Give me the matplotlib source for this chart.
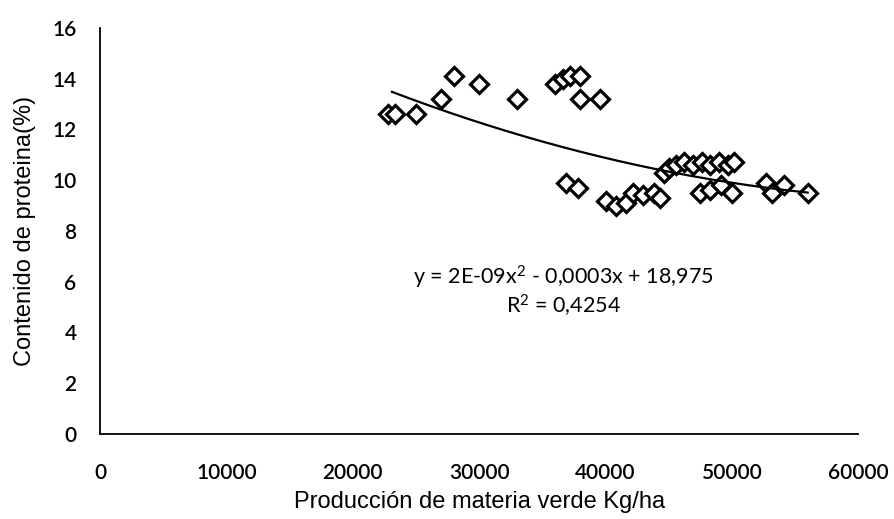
import numpy as np
import matplotlib
matplotlib.use("Agg")
import matplotlib.pyplot as plt

plt.rcParams["mathtext.fontset"] = "custom"
plt.rcParams["mathtext.rm"] = "Lato"
plt.rcParams["mathtext.it"] = "Lato"

# Produccion de materia verde (Kg/ha) vs contenido de proteina (%)
produccion = [
    22800, 23300, 25000, 27000, 28000, 30000, 33000,
    36000, 36600, 37200, 38000, 38000, 39600,
    36900, 37800,
    40000, 40800, 41600, 42200, 43000, 43800, 44300,
    44600, 45000, 45600, 46200, 46900, 47600, 48300, 49000, 49700, 50200,
    47500, 48300, 49100, 50000,
    52700, 53200, 54100, 56000,
]
proteina = [
    12.6, 12.6, 12.6, 13.2, 14.1, 13.8, 13.2,
    13.8, 14.0, 14.1, 14.1, 13.2, 13.2,
    9.9, 9.7,
    9.2, 9.0, 9.1, 9.5, 9.4, 9.5, 9.3,
    10.3, 10.5, 10.6, 10.7, 10.6, 10.7, 10.6, 10.7, 10.6, 10.7,
    9.5, 9.6, 9.8, 9.5,
    9.9, 9.5, 9.8, 9.5,
]
# trendline coefficients (order 2), c from the label
trend_coef = [2.09e-9, -0.000286, 18.975]
x_ticks = [0, 10000, 20000, 30000, 40000, 50000, 60000]
y_ticks = [0, 2, 4, 6, 8, 10, 12, 14, 16]
ecuacion = "y = 2E-09x$^\\mathrm{2}$ - 0,0003x + 18,975\nR$^\\mathrm{2}$ = 0,4254"

x = np.array(produccion, dtype=float)
y = np.array(proteina, dtype=float)

fig = plt.figure(figsize=(8.94, 5.19), dpi=100)
ax = fig.add_axes([0.112, 0.164, 0.848, 0.782])

ax.plot(x, y, linestyle="none", marker="D", markersize=9.5,
        markerfacecolor="white", markeredgecolor="black", markeredgewidth=2.3)

xt = np.linspace(x.min() + 300, x.max(), 200)
ax.plot(xt, np.polyval(trend_coef, xt), color="black", linewidth=1.6)

ax.text(36660, 5.6, ecuacion, ha="center", va="center", fontsize=15.5,
        family="Lato", linespacing=1.1)

ax.set_xlim(0, 60000)
ax.set_ylim(0, 16)
ax.set_xticks(x_ticks)
ax.set_yticks(y_ticks)
ax.tick_params(length=0, labelsize=15)
ax.tick_params(axis="x", pad=21)
ax.tick_params(axis="y", pad=17)
for lbl in ax.get_xticklabels() + ax.get_yticklabels():
    lbl.set_family("Lato")
    lbl.set_fontweight("semibold")

for side in ["top", "right"]:
    ax.spines[side].set_visible(False)
for side in ["left", "bottom"]:
    ax.spines[side].set_linewidth(1.3)

ax.set_xlabel("Producción de materia verde Kg/ha", fontsize=17,
              family="Liberation Sans", labelpad=6)
ax.set_ylabel("Contenido de proteina(%)", fontsize=17,
              family="Liberation Sans", labelpad=12)

plt.savefig("out.png", dpi=100)
